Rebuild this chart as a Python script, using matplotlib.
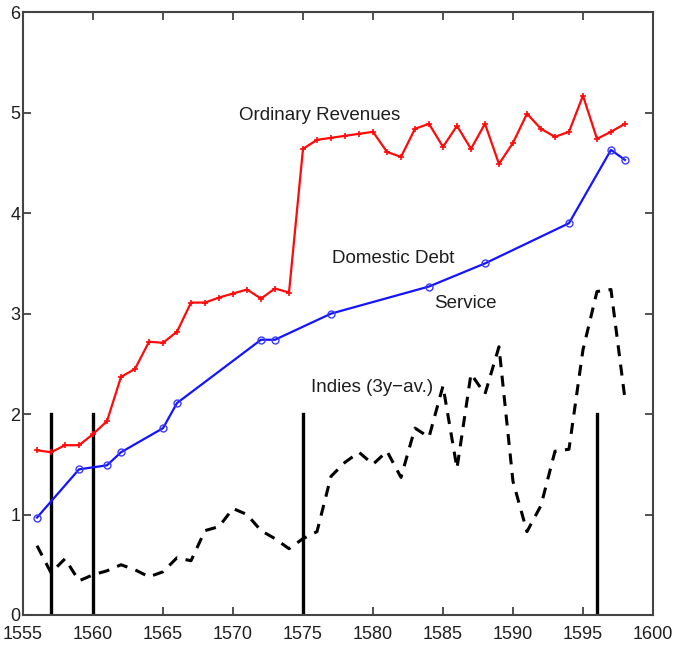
import numpy as np
import matplotlib
matplotlib.use('Agg')
import matplotlib.pyplot as plt

plt.rcParams['font.family'] = ['Liberation Sans', 'DejaVu Sans']

# Ordinary Revenues (one point per year)
rev_years = list(range(1556, 1599))
rev_vals = [1.64, 1.62, 1.69, 1.69, 1.80, 1.93, 2.37, 2.45, 2.72, 2.71,
            2.82, 3.11, 3.11, 3.16, 3.20, 3.24, 3.15, 3.25, 3.21, 4.64,
            4.73, 4.75, 4.77, 4.79, 4.81, 4.61, 4.56, 4.84, 4.89, 4.66,
            4.87, 4.64, 4.89, 4.49, 4.70, 4.99, 4.84, 4.76, 4.81, 5.17,
            4.74, 4.81, 4.89]

# Domestic Debt Service
debt_years = [1556, 1559, 1561, 1562, 1565, 1566, 1572, 1573, 1577, 1584,
              1588, 1594, 1597, 1598]
debt_vals = [0.97, 1.45, 1.49, 1.62, 1.86, 2.11, 2.74, 2.74, 3.00, 3.27,
             3.50, 3.90, 4.63, 4.53]

# Indies (3y-av.)
ind_years = list(range(1556, 1599))
ind_vals = [0.69, 0.42, 0.56, 0.34, 0.40, 0.44, 0.50, 0.45, 0.38, 0.43,
            0.57, 0.54, 0.84, 0.88, 1.06, 1.00, 0.84, 0.76, 0.66, 0.76,
            0.83, 1.38, 1.52, 1.62, 1.50, 1.63, 1.37, 1.86, 1.77, 2.28,
            1.46, 2.40, 2.20, 2.67, 1.33, 0.83, 1.09, 1.63, 1.65, 2.64,
            3.22, 3.24, 2.15]

# vertical markers (bankruptcy years)
vline_years = [1557, 1560, 1575, 1596]
vline_top = 2

fig = plt.figure(figsize=(6.77, 6.46), dpi=100)
ax = fig.add_axes([0.034, 0.048, 0.9305, 0.933])

for yr in vline_years:
    ax.plot([yr, yr], [0, vline_top], color='black', lw=2.4, zorder=2)

ax.plot(ind_years, ind_vals, color='black', lw=2.2, dashes=(3.6, 2.8), zorder=3)
ax.plot(rev_years, rev_vals, color='#ff0a0a', lw=1.6, marker='+', ms=5,
        mew=1.2, zorder=4)
ax.plot(debt_years, debt_vals, color='#1414ff', lw=1.6, marker='o', ms=5,
        mfc='none', mec='#3a3aff', mew=1.0, zorder=4)

fs = 13.5
ax.text(1570.4, 4.97, 'Ordinary Revenues', fontsize=fs, color='#1e1e1e', va='center')
ax.text(1577.1, 3.55, 'Domestic Debt', fontsize=fs, color='#1e1e1e', va='center')
ax.text(1584.4, 3.10, 'Service', fontsize=fs, color='#1e1e1e', va='center')
ax.text(1575.6, 2.26, 'Indies (3y\u2212av.)', fontsize=fs, color='#1e1e1e', va='center')

ax.set_xlim(1555, 1600)
ax.set_ylim(0, 6)
ax.set_xticks(np.arange(1555, 1601, 5))
ax.set_yticks(np.arange(0, 7, 1))
ax.tick_params(direction='in', top=True, right=True, length=6, width=1.2,
               labelsize=13, colors='#333333', labelcolor='#1e1e1e')
ax.tick_params(axis='y', pad=2)
ax.tick_params(axis='x', pad=8)
for s in ax.spines.values():
    s.set_linewidth(1.5)
    s.set_color('#444444')

fig.savefig('out.png', dpi=100)
